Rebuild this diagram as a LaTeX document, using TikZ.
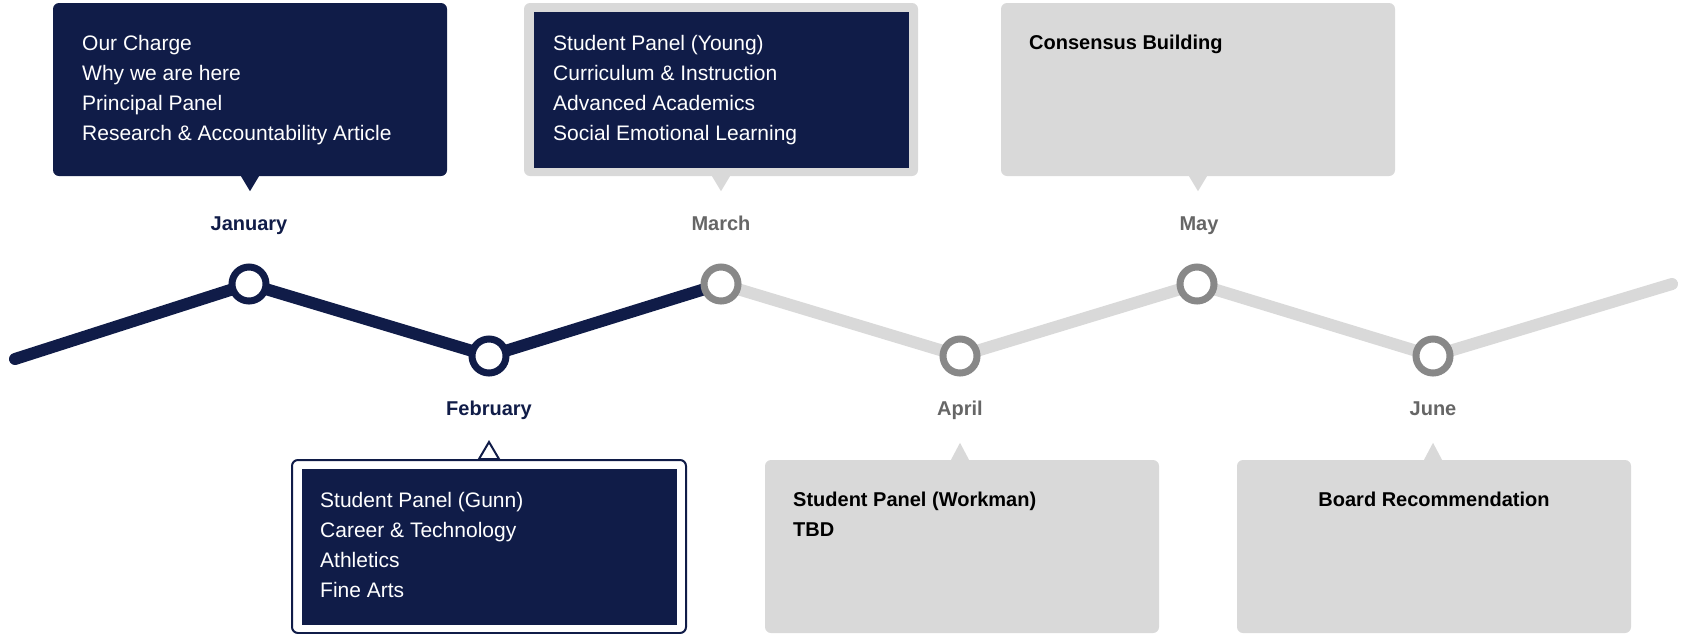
\documentclass[tikz,border=0pt]{standalone}
\usepackage{fontspec}
\setmainfont{Liberation Sans}
\usetikzlibrary{calc,backgrounds}

\definecolor{navy}{HTML}{101C48}
\definecolor{boxgray}{HTML}{D9D9D9}
\definecolor{ringgray}{HTML}{888888}
\definecolor{labelgray}{HTML}{666666}

\begin{document}
\begin{tikzpicture}[x=1pt,y=-1pt,
  card/.style={rectangle,rounded corners=6pt,minimum width=394pt,minimum height=173pt,inner sep=0pt},
  innerpanel/.style={rectangle,fill=navy,minimum width=375pt,minimum height=156pt,inner sep=0pt},
  milestone/.style={circle,draw=#1,line width=7pt,fill=white,minimum size=34pt,inner sep=0pt},
  milestone/.default=navy,
  month/.style={anchor=base,font=\fontsize{20}{24}\selectfont\bfseries,text=#1},
  month/.default=labelgray,
  items/.style={anchor=north west,inner sep=0pt,align=left,font=\fontsize{21}{30}\selectfont,text=white},
  bolditems/.style={anchor=north west,inner sep=0pt,align=left,font=\fontsize{20}{30}\selectfont\bfseries,text=black},
  track/.style={line width=12pt,line cap=round,line join=round,draw=#1},
  track/.default=boxgray]

\useasboundingbox (0,0) rectangle (1684,633);

\node[milestone=navy] at (249,284) (jan) {};
\node[milestone=navy] at (489,356) (feb) {};
\node[milestone=ringgray] at (721,284) (mar) {};
\node[milestone=ringgray] at (960,356) (apr) {};
\node[milestone=ringgray] at (1197,284) (may) {};
\node[milestone=ringgray] at (1433,356) (jun) {};
\coordinate (start) at (15,359);
\coordinate (end) at (1672,284);

\begin{scope}[on background layer]
\draw[track=boxgray] (mar.center) -- (apr.center) -- (may.center) -- (jun.center) -- (end);
\draw[track=navy] (start) -- (jan.center) -- (feb.center) -- (mar.center);
\end{scope}

\node[month=navy] at (249,230) (janlabel) {January};
\node[month=navy] at (489,415) (feblabel) {February};
\node[month] at (721,230) (marlabel) {March};
\node[month] at (960,415) (aprlabel) {April};
\node[month] at (1199,230) (maylabel) {May};
\node[month] at (1433,415) (junlabel) {June};

\node[card,fill=navy] at (250,89.5) (janbox) {};
\fill[navy] ($(janbox.south)+(-9,0)$) -- ++(18,0) -- ++(-9,15) -- cycle;
\node[items] at (82,35) (jantext) {Our Charge\\Why we are here\\Principal Panel\\Research \& Accountability Article};

\node[card,draw=navy,line width=2pt,fill=white] at (489,546.5) (febbox) {};
\node[innerpanel] at (febbox.center) (febpanel) {};
\filldraw[fill=white,draw=navy,line width=2pt] ($(febbox.north)+(-10,0)$) -- ++(20,0) -- ++(-10,-17) -- cycle;
\node[items] at (320,492) (febtext) {Student Panel (Gunn)\\Career \& Technology\\Athletics\\Fine Arts};

\node[card,fill=boxgray] at (721,89.5) (marbox) {};
\node[innerpanel] at (marbox.center) (marpanel) {};
\fill[boxgray] ($(marbox.south)+(-9,0)$) -- ++(18,0) -- ++(-9,15) -- cycle;
\node[items] at (553,35) (martext) {Student Panel (Young)\\Curriculum \& Instruction\\Advanced Academics\\Social Emotional Learning};

\node[card,fill=boxgray] at (962,546.5) (aprbox) {};
\fill[boxgray] ($(aprbox.north)+(-11,0)$) -- ++(18,0) -- ++(-9,-17) -- cycle;
\node[bolditems] at (793,492) (aprtext) {Student Panel (Workman)\\TBD};

\node[card,fill=boxgray] at (1198,89.5) (maybox) {};
\fill[boxgray] ($(maybox.south)+(-9,0)$) -- ++(18,0) -- ++(-9,15) -- cycle;
\node[bolditems] at (1029,35) (maytext) {Consensus Building};

\node[card,fill=boxgray] at (1434,546.5) (junbox) {};
\fill[boxgray] ($(junbox.north)+(-10,0)$) -- ++(18,0) -- ++(-9,-17) -- cycle;
\node[bolditems,anchor=north] at (1434,492) (juntext) {Board Recommendation};

\end{tikzpicture}
\end{document}
